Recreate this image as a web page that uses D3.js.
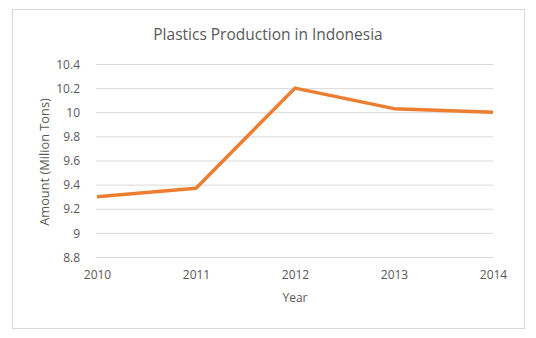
<!DOCTYPE html>
<html>
<head>
<meta charset="utf-8">
<script src="https://cdn.jsdelivr.net/npm/d3@7"></script>
<style>
  body { margin: 0; background: #fff; }
  text { font-family: "Open Sans", "Liberation Sans", sans-serif; fill: #595959; }
</style>
</head>
<body>
<div id="chart"></div>
<script>
let years = ["2010", "2011", "2012", "2013", "2014"]
let amounts = [9.3, 9.37, 10.2, 10.03, 10.0]
let yTicks = [8.8, 9, 9.2, 9.4, 9.6, 9.8, 10, 10.2, 10.4]

const width = 536, height = 338
const margin = {left: 96, right: 43, top: 64, bottom: 81}

let svg = d3.select('#chart')
  .append('svg')
    .attr('width', width)
    .attr('height', height)

// chart frame
svg.append('rect')
  .attr('x', 12.5).attr('y', 9.5)
  .attr('width', 512).attr('height', 319)
  .attr('fill', 'none')
  .attr('stroke', '#d9d9d9')

let x = d3.scalePoint()
  .domain(years)
  .range([margin.left + 1, width - margin.right])

let y = d3.scaleLinear()
  .domain([8.8, 10.4])
  .range([height - margin.bottom, margin.top])

// gridlines
svg.append('g')
  .attr('transform', 'translate(' + margin.left + ',0)')
  .call(d3.axisLeft(y).tickValues(yTicks).tickSize(-(width - margin.left - margin.right)).tickFormat(''))
  .call(g => g.select('.domain').remove())
  .call(g => g.selectAll('line').attr('stroke', '#d9d9d9').attr('stroke-width', 1))

// y labels
svg.append('g')
  .attr('transform', 'translate(' + (margin.left - 13) + ',0)')
  .call(d3.axisLeft(y).tickValues(yTicks).tickSize(0).tickFormat(d3.format('')))
  .call(g => g.select('.domain').remove())
  .call(g => g.selectAll('text').attr('font-size', 12).attr('text-anchor', 'end').attr('dy', '0.35em'))

// x labels
svg.append('g')
  .attr('transform', 'translate(0,' + (height - margin.bottom + 10) + ')')
  .call(d3.axisBottom(x).tickSize(0))
  .call(g => g.select('.domain').remove())
  .call(g => g.selectAll('text').attr('font-size', 12))

let line = d3.line()
  .x((d, i) => x(years[i]))
  .y(d => y(d))

svg.append('path')
  .datum(amounts)
  .attr('d', line)
  .attr('fill', 'none')
  .attr('stroke', '#ed7d31')
  .attr('stroke-width', 3.5)
  .attr('stroke-linejoin', 'round')

svg.append('text')
  .attr('x', 268).attr('y', 40)
  .attr('text-anchor', 'middle')
  .attr('font-size', 15.5)
  .text('Plastics Production in Indonesia')

svg.append('text')
  .attr('x', 295).attr('y', 302)
  .attr('text-anchor', 'middle')
  .attr('font-size', 12)
  .text('Year')

svg.append('text')
  .attr('transform', 'translate(49,162) rotate(-90)')
  .attr('text-anchor', 'middle')
  .attr('font-size', 12.8)
  .text('Amount (Milion Tons)')
</script>
</body>
</html>
